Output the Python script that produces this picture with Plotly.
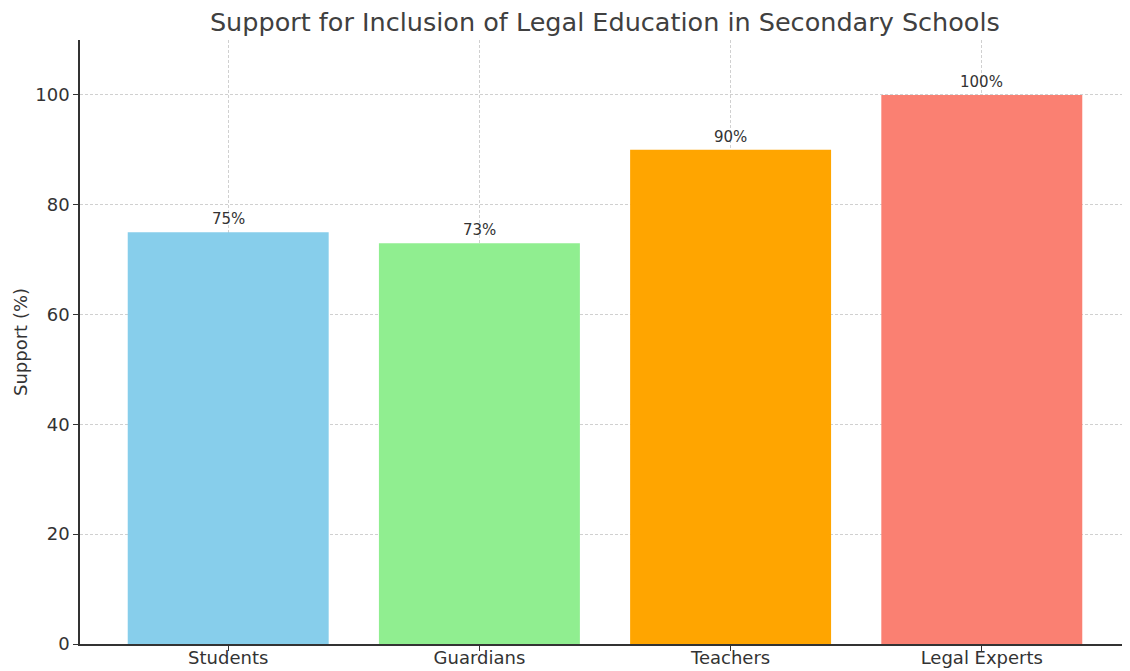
import plotly.graph_objects as go

categories = ["Students", "Guardians", "Teachers", "Legal Experts"]
support = [75, 73, 90, 100]
colors = ["#87CEEB", "#90EE90", "#FFA500", "#FA8072"]
labels = ["75%", "73%", "90%", "100%"]
yticks = [0, 20, 40, 60, 80, 100]

# page body has an 8px margin; size the figure so the plot lands where the reference's does
W, H = 1122, 663

fig = go.Figure()
fig.add_trace(go.Bar(
    x=list(range(len(categories))), y=support, marker_color=colors,
    marker_line_width=0, width=0.8,
))
for i, (v, t) in enumerate(zip(support, labels)):
    fig.add_annotation(x=i, y=v, text=t, showarrow=False, yanchor="bottom", yshift=2,
                       font=dict(family="DejaVu Sans", size=15, color="#333333"))

fig.add_annotation(xref="paper", yref="paper", x=0, y=0.5, xshift=-60, xanchor="center",
                   yanchor="middle", textangle=-90, showarrow=False, text="Support (%)",
                   font=dict(family="DejaVu Sans", size=18, color="#333333"))

fig.update_layout(
    width=W, height=H,
    margin=dict(l=72, r=0, t=32, b=27, autoexpand=False),
    plot_bgcolor="white", paper_bgcolor="white",
    showlegend=False,
    font=dict(family="DejaVu Sans", color="#333333"),
    title=dict(text="Support for Inclusion of Legal Education in Secondary Schools",
               x=0.532, xanchor="center", y=0.979, yanchor="middle",
               font=dict(size=25.5, color="#404040")),
    bargap=0.2,
)
grid = dict(showgrid=True, gridcolor="#d0d0d0", griddash="3px,2px", gridwidth=0.8)
fig.update_xaxes(
    range=[-0.59, 3.59], tickmode="array", tickvals=list(range(len(categories))),
    ticktext=categories, showline=True, linecolor="#333333", linewidth=1.5,
    ticks="outside", ticklen=5, tickcolor="#333333", automargin=False,
    ticklabelstandoff=-8,
    tickfont=dict(size=18, color="#333333"), layer="above traces", zeroline=False, **grid,
)
fig.update_yaxes(
    range=[0, 110], tickvals=yticks, showline=True, linecolor="#333333", linewidth=1.5,
    ticks="outside", ticklen=5, tickcolor="#333333", automargin=False,
    tickfont=dict(size=18, color="#333333"), layer="above traces", zeroline=False, **grid,
)
fig.write_html("out.html")
